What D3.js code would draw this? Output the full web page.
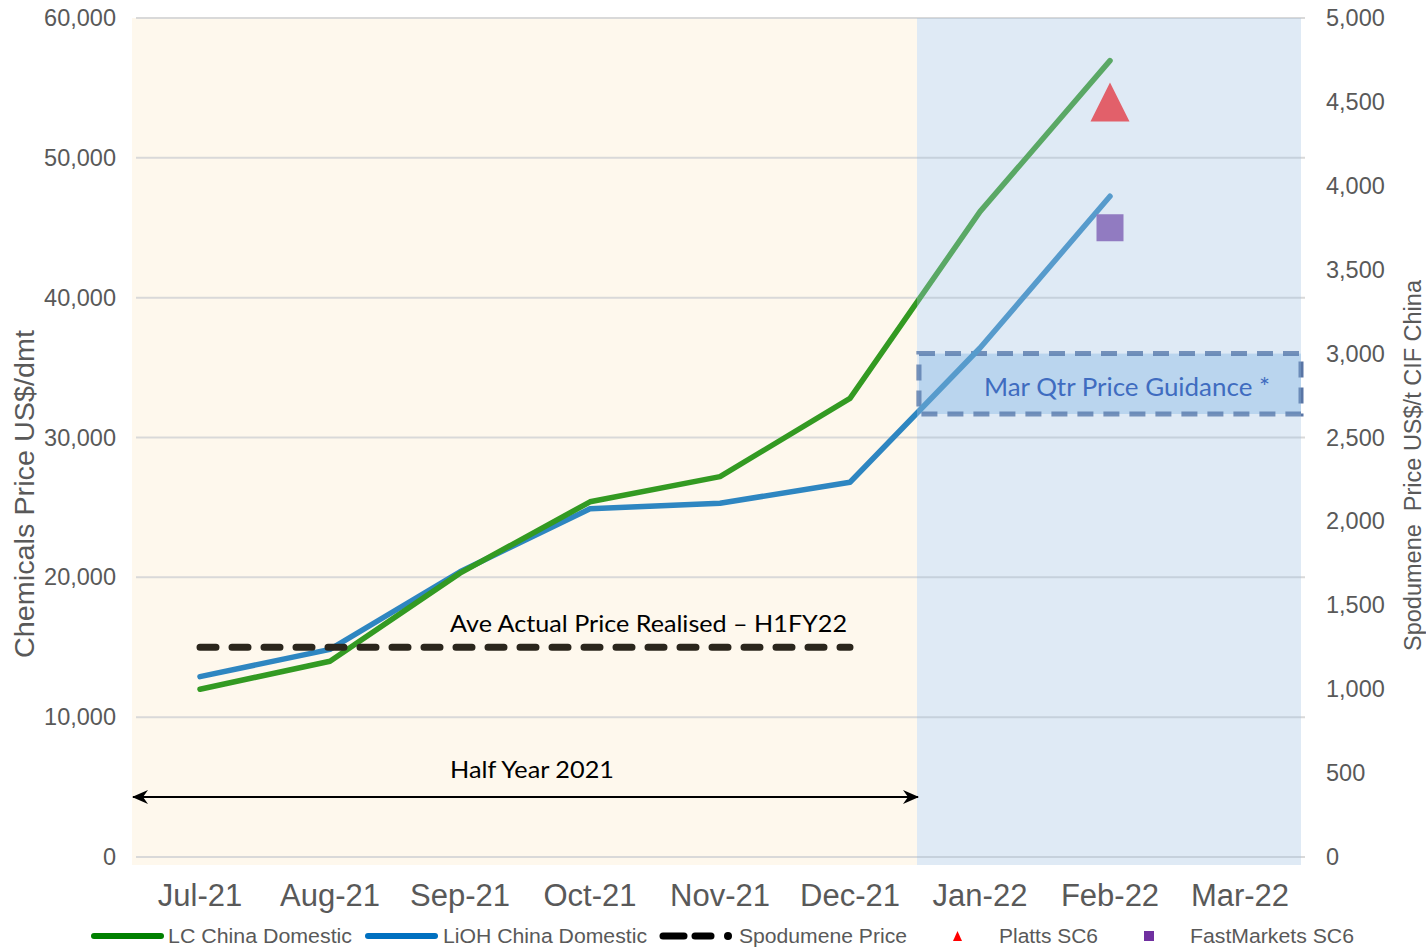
<!DOCTYPE html>
<html>
<head>
<meta charset="utf-8">
<script src="https://cdn.jsdelivr.net/npm/d3@7"></script>
<style>
  html, body { margin: 0; padding: 0; background: #ffffff; }
  svg { display: block; }
</style>
</head>
<body>
<svg id="chart" width="1426" height="947"></svg>
<script>
// ---------------- DATA ----------------
const months = ["Jul-21", "Aug-21", "Sep-21", "Oct-21", "Nov-21", "Dec-21", "Jan-22", "Feb-22", "Mar-22"];
const lcChinaDomestic   = [12000, 14000, 20300, 25400, 27200, 32800, 46150, 56950, null];
const liohChinaDomestic = [12900, 14850, 20400, 24900, 25300, 26800, 36400, 47250, null];
const spodumenePrice    = [1250, 1250, 1250, 1250, 1250, 1250, null, null, null];
const plattsSC6         = [null, null, null, null, null, null, null, 4500, null];
const fastMarketsSC6    = [null, null, null, null, null, null, null, 3750, null];
const guidanceRange     = [2640, 3000];          // Mar Qtr price guidance (right axis)
const guidanceMonths    = ["Jan-22", "Mar-22"];
const halfYearMonths    = ["Jul-21", "Dec-21"];
const leftTicks  = [0, 10000, 20000, 30000, 40000, 50000, 60000];
const rightTicks = [0, 500, 1000, 1500, 2000, 2500, 3000, 3500, 4000, 4500, 5000];
const legendLabels = ["LC China Domestic", "LiOH China Domestic", "Spodumene Price", "Platts SC6", "FastMarkets SC6"];

// ---------------- SETUP ----------------
const svg = d3.select("#chart");
const W = 1426, H = 947;
const FONT = "'Liberation Sans', Arial, sans-serif";
const CAL = "Lato, 'Noto Sans', sans-serif";
const GREY = "#595959";

const x = d3.scaleBand().domain(months).range([135, 1305]);
const cx = m => x(m) + x.bandwidth() / 2;
const yL = d3.scaleLinear().domain([0, 60000]).range([857, 18]);
const yR = d3.scaleLinear().domain([0, 5000]).range([857, 18]);

svg.append("rect").attr("width", W).attr("height", H).attr("fill", "#ffffff");

const splitX = x("Jan-22") + 2;
const plotLeft = x.range()[0];
const plotRight = x.range()[1] - 4;

// defs
const defs = svg.append("defs");
["start", "end"].forEach(k => {
  defs.append("marker")
    .attr("id", "arrow-" + k)
    .attr("viewBox", "-16 -8 18 16")
    .attr("refX", 0).attr("refY", 0)
    .attr("markerWidth", 18).attr("markerHeight", 16)
    .attr("markerUnits", "userSpaceOnUse")
    .attr("orient", k === "end" ? "auto" : "auto-start-reverse")
    .append("path")
    .attr("d", "M1,0 L-15,-7 L-10,0 L-15,7 Z")
    .attr("fill", "#000");
});

// background (first half)
svg.append("rect")
  .attr("x", plotLeft - 3).attr("y", yL(60000))
  .attr("width", splitX - (plotLeft - 3)).attr("height", yL(0) + 8 - yL(60000))
  .attr("fill", "#fef8ed");

// gridlines
svg.append("g")
  .selectAll("line").data(leftTicks).join("line")
  .attr("x1", plotLeft + 1).attr("x2", x.range()[1])
  .attr("y1", d => yL(d)).attr("y2", d => yL(d))
  .attr("stroke", "#d9d9d9").attr("stroke-width", 2);

// guidance box (underneath lines)
const gx0 = x(guidanceMonths[0]) + 4;
const gx1 = plotRight;
const gy0 = yR(guidanceRange[1]);
const gy1 = yR(guidanceRange[0]);
svg.append("rect")
  .attr("x", gx0).attr("y", gy0).attr("width", gx1 - gx0).attr("height", gy1 - gy0)
  .attr("fill", "#c6dff4");
svg.append("rect")
  .attr("x", gx0).attr("y", gy0).attr("width", gx1 - gx0).attr("height", gy1 - gy0)
  .attr("fill", "none").attr("stroke", "#2f528f").attr("stroke-opacity", 0.8)
  .attr("stroke-width", 5).attr("stroke-dasharray", "16 10");

// lines
const lineL = d3.line().defined(d => d != null).x((d, i) => cx(months[i])).y(d => yL(d));
const lineR = d3.line().defined(d => d != null).x((d, i) => cx(months[i])).y(d => yR(d));

svg.append("path").datum(liohChinaDomestic).attr("d", lineL)
  .attr("fill", "none").attr("stroke", "#2e86c1").attr("stroke-width", 5.5)
  .attr("stroke-linejoin", "round").attr("stroke-linecap", "round");
svg.append("path").datum(lcChinaDomestic).attr("d", lineL)
  .attr("fill", "none").attr("stroke", "#339a22").attr("stroke-width", 5.5)
  .attr("stroke-linejoin", "round").attr("stroke-linecap", "round");
svg.append("path").datum(spodumenePrice).attr("d", lineR)
  .attr("fill", "none").attr("stroke", "#2b261c").attr("stroke-width", 7)
  .attr("stroke-linecap", "round").attr("stroke-dasharray", "16 16");

// second-half translucent overlay
svg.append("rect")
  .attr("x", splitX).attr("y", yL(60000))
  .attr("width", plotRight - splitX).attr("height", yL(0) + 8 - yL(60000))
  .attr("fill", "rgb(164,195,226)").attr("fill-opacity", 0.35);

// markers
const triSize = 39;
svg.append("g").selectAll("path").data(plattsSC6.map((v, i) => ({v, m: months[i]})).filter(d => d.v != null))
  .join("path")
  .attr("transform", d => `translate(${cx(d.m)},${yR(d.v)})`)
  .attr("d", `M0,${-triSize / 2} L${triSize / 2},${triSize / 2} L${-triSize / 2},${triSize / 2} Z`)
  .attr("fill", "#e2606a");
const sq = 27;
svg.append("g").selectAll("rect").data(fastMarketsSC6.map((v, i) => ({v, m: months[i]})).filter(d => d.v != null))
  .join("rect")
  .attr("x", d => cx(d.m) - sq / 2).attr("y", d => yR(d.v) - sq / 2)
  .attr("width", sq).attr("height", sq)
  .attr("fill", "#917bc1");

// guidance label
svg.append("text")
  .attr("x", (gx0 + gx1) / 2 + 17).attr("y", (gy0 + gy1) / 2 + 12)
  .attr("text-anchor", "middle")
  .attr("font-family", CAL).attr("font-size", 25.5)
  .attr("textLength", 286).attr("lengthAdjust", "spacingAndGlyphs")
  .attr("fill", "#3f6cc0")
  .text("Mar Qtr Price Guidance *");

// annotations
svg.append("text")
  .attr("x", 450).attr("y", 632)
  .attr("font-family", CAL).attr("font-size", 24)
  .attr("textLength", 397).attr("lengthAdjust", "spacingAndGlyphs")
  .attr("fill", "#000")
  .text("Ave Actual Price Realised \u2013 H1FY22");
svg.append("text")
  .attr("x", 450).attr("y", 778)
  .attr("font-family", CAL).attr("font-size", 24)
  .attr("textLength", 164).attr("lengthAdjust", "spacingAndGlyphs")
  .attr("fill", "#000")
  .text("Half Year 2021");
svg.append("line")
  .attr("x1", plotLeft - 2).attr("x2", splitX + 1)
  .attr("y1", 797).attr("y2", 797)
  .attr("stroke", "#000").attr("stroke-width", 2)
  .attr("marker-start", "url(#arrow-start)")
  .attr("marker-end", "url(#arrow-end)");

// axes
const axL = svg.append("g").attr("transform", `translate(${plotLeft},0)`)
  .call(d3.axisLeft(yL).tickValues(leftTicks).tickSize(0).tickPadding(19).tickFormat(d3.format(",")));
const axR = svg.append("g").attr("transform", `translate(${x.range()[1]},0)`)
  .call(d3.axisRight(yR).tickValues(rightTicks).tickSize(0).tickPadding(21).tickFormat(d3.format(",")));
const axB = svg.append("g").attr("transform", `translate(0,${yL(0)})`)
  .call(d3.axisBottom(x).tickSize(0).tickPadding(27));
[axL, axR, axB].forEach(a => {
  a.select(".domain").remove();
  a.selectAll("text").attr("font-family", FONT).attr("fill", GREY);
});
axL.selectAll("text").attr("font-size", 23.5);
axR.selectAll("text").attr("font-size", 23.5);
axB.selectAll("text").attr("font-size", 31);

// axis titles
svg.append("text")
  .attr("transform", `translate(34,${(330 + 658) / 2}) rotate(-90)`)
  .attr("text-anchor", "middle")
  .attr("font-family", FONT).attr("font-size", 27)
  .attr("textLength", 328).attr("lengthAdjust", "spacingAndGlyphs")
  .attr("fill", GREY)
  .text("Chemicals Price US$/dmt");
svg.append("text")
  .attr("transform", `translate(1421,${(279 + 652) / 2}) rotate(-90)`)
  .attr("text-anchor", "middle")
  .attr("font-family", FONT).attr("font-size", 23.5)
  .attr("fill", GREY)
  .style("white-space", "pre")
  .text("Spodumene  Price US$/t CIF China");

// legend
const lg = svg.append("g");
const ly = 936;
lg.append("line").attr("x1", 94).attr("x2", 161).attr("y1", ly).attr("y2", ly)
  .attr("stroke", "#008000").attr("stroke-width", 6).attr("stroke-linecap", "round");
lg.append("line").attr("x1", 368).attr("x2", 435).attr("y1", ly).attr("y2", ly)
  .attr("stroke", "#0070c0").attr("stroke-width", 6).attr("stroke-linecap", "round");
lg.append("line").attr("x1", 663).attr("x2", 684).attr("y1", ly).attr("y2", ly)
  .attr("stroke", "#000").attr("stroke-width", 7).attr("stroke-linecap", "round");
lg.append("line").attr("x1", 695).attr("x2", 711).attr("y1", ly).attr("y2", ly)
  .attr("stroke", "#000").attr("stroke-width", 7).attr("stroke-linecap", "round");
lg.append("circle").attr("cx", 728).attr("cy", ly).attr("r", 4).attr("fill", "#000");
lg.append("path").attr("d", `M957.5,${ly - 5} L962,${ly + 5} L953,${ly + 5} Z`).attr("fill", "#ff0000");
lg.append("rect").attr("x", 1144).attr("y", ly - 5).attr("width", 10).attr("height", 10).attr("fill", "#7030a0");

const legendPos = [[168, 184], [443, 204], [739, 168], [999, 99], [1190, 164]];
legendLabels.forEach((t, i) => {
  lg.append("text")
    .attr("x", legendPos[i][0]).attr("y", 943)
    .attr("font-family", FONT).attr("font-size", 20.5)
    .attr("textLength", legendPos[i][1]).attr("lengthAdjust", "spacingAndGlyphs")
    .attr("fill", GREY)
    .text(t);
});
</script>
</body>
</html>
